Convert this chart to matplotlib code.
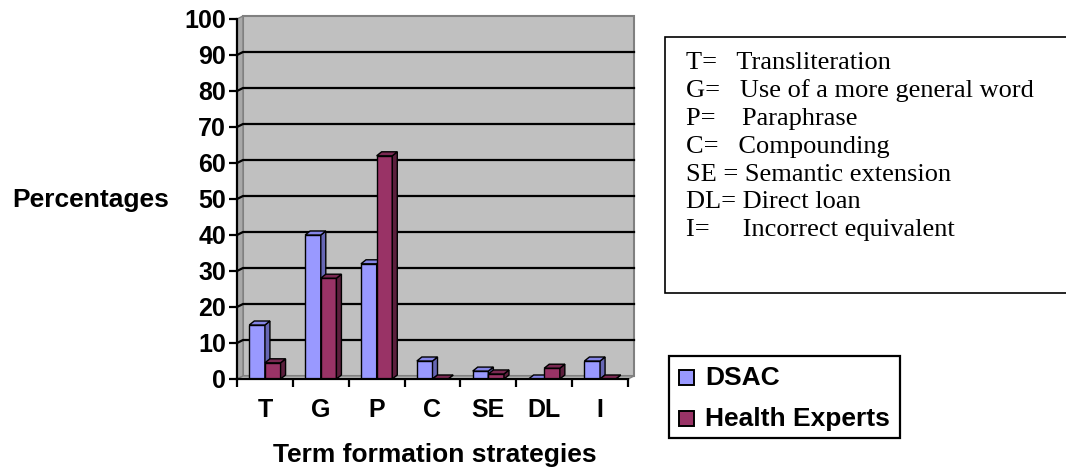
import matplotlib
matplotlib.use("Agg")
import matplotlib.pyplot as plt
from matplotlib.patches import Polygon, Rectangle
from matplotlib.lines import Line2D
import numpy as np

categories = ['T', 'G', 'P', 'C', 'SE', 'DL', 'I']
dsac = [15, 40, 32, 5, 2.2, 0, 5]
health = [4.5, 28, 62, 0, 1.4, 3, 0]
series_names = ['DSAC', 'Health Experts']
definitions = [
    'T=   Transliteration',
    'G=   Use of a more general word',
    'P=    Paraphrase',
    'C=   Compounding',
    'SE = Semantic extension',
    'DL= Direct loan',
    'I=     Incorrect equivalent',
]

W, H = 1066, 472
DPI = 100
fig = plt.figure(figsize=(W / DPI, H / DPI), dpi=DPI)

# front plane of the 3-D plot area (pixel geometry)
ax_l, ax_r = 237, 628
ax_b, ax_t = 379, 19
ax = fig.add_axes([ax_l / W, (H - ax_b) / H, (ax_r - ax_l) / W, (ax_b - ax_t) / H])
n = len(categories)
ax.set_xlim(0, n)
ax.set_ylim(0, 100)
ax.patch.set_visible(False)

# depth offset in data units (pixels -> data)
px_x = (ax_r - ax_l) / n
px_y = (ax_b - ax_t) / 100.0
DX, DY = 6 / px_x, 3 / px_y          # wall depth
BX, BY = 5 / px_x, 4 / px_y          # bar depth

def poly(pts, fc, ec='black', lw=1.0, z=1):
    p = Polygon(pts, closed=True, facecolor=fc, edgecolor=ec, linewidth=lw,
                zorder=z, clip_on=False)
    ax.add_patch(p)

# back wall, side wall and floor
poly([(DX, DY), (n + DX, DY), (n + DX, 100 + DY), (DX, 100 + DY)], '#C0C0C0', '#808080', 1.5, 0.5)
poly([(0, 0), (DX, DY), (DX, 100 + DY), (0, 100)], '#A8A8A8', '#808080', 1.0, 0.6)
for g in range(10, 100, 10):
    ax.add_line(Line2D([0, DX, n + DX], [g, g + DY, g + DY], color='black', lw=1.6,
                       zorder=0.8, clip_on=False))
poly([(0, 0), (n, 0), (n + DX, DY), (DX, DY)], '#C0C0C0', '#808080', 1.0, 0.9)

# 3-D columns
face_cols = ['#9999FF', '#993366']
side_cols = ['#6666B3', '#5C1F3D']
top_cols = ['#8585E6', '#7A2952']
bw = 0.28
for i in range(n):
    c = i + 0.5
    for s, vals in enumerate([dsac, health]):
        h = vals[i]
        x0 = c - bw if s == 0 else c
        x1 = x0 + bw
        ax.bar(x0, h, width=bw, align='edge', color=face_cols[s], edgecolor='black',
               linewidth=1.0, zorder=2 + s)
        poly([(x1, 0), (x1 + BX, BY), (x1 + BX, h + BY), (x1, h)], side_cols[s], 'black', 1.0, 2 + s)
        poly([(x0, h), (x1, h), (x1 + BX, h + BY), (x0 + BX, h + BY)], top_cols[s], 'black', 1.0, 2 + s)

# axes
for side in ['top', 'right']:
    ax.spines[side].set_visible(False)
ax.spines['left'].set_linewidth(1.6)
ax.spines['bottom'].set_linewidth(1.6)
ax.spines['left'].set_zorder(5)
ax.spines['bottom'].set_zorder(5)
ax.set_yticks(range(0, 101, 10))
ax.set_xticks(range(0, n + 1))
ax.set_xticklabels([])
ax.set_xticks([i + 0.5 for i in range(n)], minor=True)
ax.set_xticklabels(categories, minor=True)
ax.tick_params(axis='x', which='minor', length=0, pad=14)
ax.tick_params(axis='x', which='major', length=6, width=1.6, direction='out')
ax.tick_params(axis='y', length=6, width=1.6, direction='out', pad=2)
for lab in ax.get_yticklabels() + ax.get_xticklabels(minor=True):
    lab.set_fontfamily('Liberation Sans')
    lab.set_fontweight('bold')
    lab.set_fontsize(18)

fig.text(91 / W, 1 - 200 / H, 'Percentages', family='Liberation Sans', weight='bold',
         fontsize=19, ha='center', va='center')
fig.text(435 / W, 1 - 455 / H, 'Term formation strategies', family='Liberation Sans',
         weight='bold', fontsize=19, ha='center', va='center')

# definitions box
fig.patches.append(Rectangle((665 / W, 1 - 293 / H), 420 / W, (293 - 37) / H,
                             transform=fig.transFigure, facecolor='white',
                             edgecolor='black', linewidth=1.2, clip_on=False))
for k, txt in enumerate(definitions):
    fig.text(686 / W, 1 - (63 + 27.9 * k) / H, txt, family='Liberation Serif',
             fontsize=19, ha='left', va='center')

# series legend
fig.patches.append(Rectangle((669 / W, 1 - 438 / H), (900 - 669) / W, (438 - 356) / H,
                             transform=fig.transFigure, facecolor='white',
                             edgecolor='black', linewidth=1.6))
for k, name in enumerate(series_names):
    yc = 378 + 41 * k
    fig.patches.append(Rectangle((679 / W, 1 - (yc + 7) / H), 15 / W, 15 / H,
                                 transform=fig.transFigure, facecolor=face_cols[k],
                                 edgecolor='black', linewidth=1.4))
    fig.text(705 / W, 1 - yc / H, name, family='Liberation Sans', weight='bold',
             fontsize=19, ha='left', va='center')

fig.savefig('out.png', dpi=DPI)
